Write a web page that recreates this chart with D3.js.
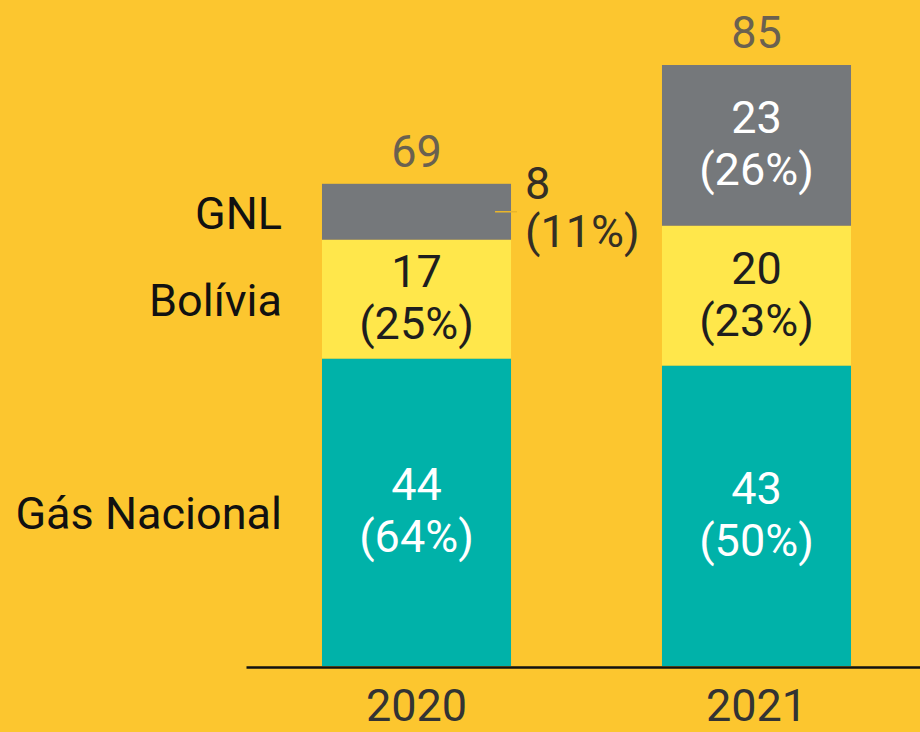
<!DOCTYPE html>
<html>
<head>
<meta charset="utf-8">
<script src="https://cdn.jsdelivr.net/npm/d3@7"></script>
<style>
  html, body { margin: 0; padding: 0; background: #FCC62F; }
  svg { display: block; }
  text { font-family: Roboto, "Noto Sans", sans-serif; }
</style>
</head>
<body>
<svg id="chart" width="920" height="732"></svg>
<script>
// ---- data ----
const years = ["2020", "2021"];
const seriesNames = ["Gás Nacional", "Bolívia", "GNL"];
const gasNacional = [44, 43];
const bolivia = [17, 20];
const gnl = [8, 23];
const totals = [69, 85];
const shareGasNacional = ["64%", "50%"];
const shareBolivia = ["25%", "23%"];
const shareGnl = ["11%", "26%"];

const colors = { "Gás Nacional": "#00B2A9", "Bolívia": "#FFE74B", "GNL": "#75787B" };
const labelColors = { "Gás Nacional": "#ffffff", "Bolívia": "#1e1e1e", "GNL": "#ffffff" };

const width = 920, height = 732;
const svg = d3.select("#chart");
svg.append("rect").attr("width", width).attr("height", height).attr("fill", "#FCC62F");

const rows = years.map((y, i) => ({
  year: y,
  "Gás Nacional": gasNacional[i],
  "Bolívia": bolivia[i],
  "GNL": gnl[i],
  total: totals[i],
  shares: { "Gás Nacional": shareGasNacional[i], "Bolívia": shareBolivia[i], "GNL": shareGnl[i] }
}));

const x = d3.scaleBand().domain(years).range([246, 927]).paddingInner(0.444).paddingOuter(0.2235);
const y = d3.scaleLinear().domain([0, 86]).range([666, 65]);

const stack = d3.stack().keys(seriesNames);
const stacked = stack(rows);
const topOf = stacked[stacked.length - 1];

const fs = 45;

// bars
const layers = svg.append("g").selectAll("g").data(stacked).join("g")
  .attr("fill", d => colors[d.key]);
layers.selectAll("rect").data(d => d).join("rect")
  .attr("x", d => x(d.data.year))
  .attr("width", x.bandwidth())
  .attr("y", d => y(d[1]))
  .attr("height", d => y(d[0]) - y(d[1]));

// value labels
const lbl = svg.append("g");
stacked.forEach(layer => {
  layer.forEach(d => {
    const outside = layer.key === "GNL" && d.data.year === "2020";
    const cy = (y(d[0]) + y(d[1])) / 2;
    const val = d.data[layer.key];
    if (!outside) {
      const cx = x(d.data.year) + x.bandwidth() / 2;
      const t = lbl.append("text").attr("text-anchor", "middle")
        .attr("fill", labelColors[layer.key]).attr("font-size", fs);
      t.append("tspan").attr("x", cx).attr("y", cy - 12).text(val);
      t.append("tspan").attr("x", cx).attr("y", cy + 40).text("(" + d.data.shares[layer.key] + ")");
    } else {
      const xr = x(d.data.year) + x.bandwidth();
      lbl.append("line").attr("x1", xr - 16).attr("x2", xr + 6)
        .attr("y1", cy).attr("y2", cy).attr("stroke", "#E9B52B").attr("stroke-width", 1.5);
      const t = lbl.append("text").attr("text-anchor", "start")
        .attr("fill", "#342f25").attr("font-size", fs);
      t.append("tspan").attr("x", xr + 14).attr("y", cy - 13).text(val);
      t.append("tspan").attr("x", xr + 14).attr("y", cy + 35).text("(" + d.data.shares[layer.key] + ")");
    }
  });
});

// totals
svg.append("g").selectAll("text").data(rows).join("text")
  .attr("x", d => x(d.year) + x.bandwidth() / 2)
  .attr("y", (d, i) => y(topOf[i][1]) - 17)
  .attr("text-anchor", "middle")
  .attr("font-size", fs)
  .attr("fill", "#6A6150")
  .text(d => d.total);

// category labels, aligned with first bar's segments
svg.append("g").selectAll("text").data(stacked).join("text")
  .attr("x", 282)
  .attr("y", d => (y(d[0][0]) + y(d[0][1])) / 2 + 17)
  .attr("text-anchor", "end")
  .attr("font-size", fs)
  .attr("fill", "#111111")
  .text(d => d.key);

// x axis
const axis = svg.append("g").attr("transform", "translate(0,667)")
  .call(d3.axisBottom(x).tickSize(0).tickPadding(0));
axis.select(".domain").attr("stroke", "#111").attr("stroke-width", 2.5);
axis.selectAll(".tick text")
  .attr("y", 54).attr("dy", 0)
  .attr("font-size", fs)
  .attr("font-family", "Roboto, 'Noto Sans', sans-serif")
  .attr("fill", "#333333");
</script>
</body>
</html>
